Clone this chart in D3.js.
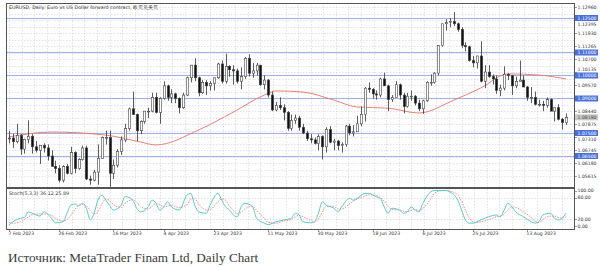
<!DOCTYPE html>
<html>
<head>
<meta charset="utf-8">
<script src="https://cdn.jsdelivr.net/npm/d3@7"></script>
<style>
  body { margin: 0; background: #fff; }
  svg { display: block; }
</style>
</head>
<body>
<div id="chart"></div>
<script>
// Daily candles, 7 Feb 2023 .. 28 Aug 2023: [open, high, low, close]
const candles = [
  [1.0725, 1.0760, 1.0705, 1.0728], [1.0728, 1.0747, 1.0685, 1.0712], [1.0712, 1.0790, 1.0705, 1.0740],
  [1.0740, 1.0745, 1.0655, 1.0680], [1.0680, 1.0725, 1.0660, 1.0722], [1.0722, 1.0805, 1.0705, 1.0736],
  [1.0736, 1.0745, 1.0660, 1.0690], [1.0690, 1.0715, 1.0665, 1.0675], [1.0675, 1.0695, 1.0615, 1.0695],
  [1.0695, 1.0705, 1.0665, 1.0685], [1.0685, 1.0700, 1.0630, 1.0650], [1.0650, 1.0675, 1.0605, 1.0605],
  [1.0605, 1.0630, 1.0575, 1.0595], [1.0595, 1.0610, 1.0535, 1.0545], [1.0545, 1.0610, 1.0535, 1.0605],
  [1.0605, 1.0615, 1.0570, 1.0575], [1.0575, 1.0690, 1.0570, 1.0665], [1.0665, 1.0670, 1.0575, 1.0595],
  [1.0595, 1.0640, 1.0590, 1.0635], [1.0635, 1.0695, 1.0630, 1.0685], [1.0685, 1.0695, 1.0545, 1.0550],
  [1.0550, 1.0565, 1.0525, 1.0545], [1.0545, 1.0590, 1.0540, 1.0580], [1.0580, 1.0700, 1.0525, 1.0640],
  [1.0640, 1.0735, 1.0640, 1.0730], [1.0730, 1.0760, 1.0700, 1.0730], [1.0730, 1.0760, 1.0516, 1.0575],
  [1.0575, 1.0635, 1.0550, 1.0610], [1.0610, 1.0680, 1.0600, 1.0670], [1.0670, 1.0735, 1.0655, 1.0720],
  [1.0720, 1.0790, 1.0710, 1.0770], [1.0770, 1.0860, 1.0760, 1.0855], [1.0855, 1.0930, 1.0830, 1.0830],
  [1.0830, 1.0835, 1.0715, 1.0760], [1.0760, 1.0805, 1.0745, 1.0800], [1.0800, 1.0845, 1.0790, 1.0845],
  [1.0845, 1.0860, 1.0815, 1.0845], [1.0845, 1.0925, 1.0840, 1.0905], [1.0905, 1.0925, 1.0835, 1.0840],
  [1.0840, 1.0905, 1.0790, 1.0900], [1.0900, 1.0975, 1.0895, 1.0955], [1.0955, 1.0960, 1.0890, 1.0905],
  [1.0905, 1.0940, 1.0880, 1.0920], [1.0920, 1.0925, 1.0880, 1.0900], [1.0900, 1.0905, 1.0835, 1.0860],
  [1.0860, 1.0925, 1.0855, 1.0915], [1.0915, 1.0995, 1.0910, 1.0990], [1.0990, 1.1045, 1.0970, 1.1045],
  [1.1045, 1.1075, 1.0975, 1.0990], [1.0990, 1.0995, 1.0910, 1.0925], [1.0925, 1.0980, 1.0920, 1.0970],
  [1.0970, 1.0980, 1.0915, 1.0955], [1.0955, 1.0975, 1.0935, 1.0965], [1.0965, 1.0990, 1.0935, 1.0990],
  [1.0990, 1.1055, 1.0985, 1.1050], [1.1050, 1.1065, 1.0965, 1.0975], [1.0975, 1.1095, 1.0965, 1.1040],
  [1.1040, 1.1045, 1.0995, 1.1025], [1.1025, 1.1045, 1.0960, 1.1020], [1.1020, 1.1030, 1.0965, 1.0975],
  [1.0975, 1.1035, 1.0940, 1.0995], [1.0995, 1.1080, 1.0985, 1.1075], [1.1075, 1.1092, 1.0995, 1.1010],
  [1.1010, 1.1055, 1.0990, 1.1020], [1.1020, 1.1055, 1.1000, 1.1045], [1.1045, 1.1045, 1.0955, 1.0960],
  [1.0960, 1.1000, 1.0940, 1.0980], [1.0980, 1.0985, 1.0905, 1.0915], [1.0915, 1.0930, 1.0845, 1.0850],
  [1.0850, 1.0885, 1.0845, 1.0870], [1.0870, 1.0905, 1.0850, 1.0860], [1.0860, 1.0875, 1.0805, 1.0840],
  [1.0840, 1.0845, 1.0760, 1.0770], [1.0770, 1.0830, 1.0760, 1.0805], [1.0805, 1.0830, 1.0790, 1.0815],
  [1.0815, 1.0825, 1.0760, 1.0775], [1.0775, 1.0790, 1.0745, 1.0750], [1.0750, 1.0760, 1.0715, 1.0725],
  [1.0725, 1.0745, 1.0705, 1.0720], [1.0720, 1.0730, 1.0700, 1.0705], [1.0705, 1.0745, 1.0675, 1.0735],
  [1.0735, 1.0740, 1.0635, 1.0690], [1.0690, 1.0775, 1.0665, 1.0765], [1.0765, 1.0780, 1.0705, 1.0710],
  [1.0710, 1.0725, 1.0675, 1.0715], [1.0715, 1.0720, 1.0675, 1.0695], [1.0695, 1.0710, 1.0665, 1.0700],
  [1.0700, 1.0785, 1.0690, 1.0780], [1.0780, 1.0790, 1.0740, 1.0750], [1.0750, 1.0785, 1.0735, 1.0755],
  [1.0755, 1.0825, 1.0755, 1.0790], [1.0790, 1.0865, 1.0780, 1.0830], [1.0830, 1.0950, 1.0800, 1.0945],
  [1.0945, 1.0970, 1.0925, 1.0940], [1.0940, 1.0945, 1.0900, 1.0920], [1.0920, 1.0935, 1.0895, 1.0915],
  [1.0915, 1.0990, 1.0905, 1.0985], [1.0985, 1.1012, 1.0955, 1.0955], [1.0955, 1.0960, 1.0845, 1.0895],
  [1.0895, 1.0915, 1.0885, 1.0905], [1.0905, 1.0975, 1.0905, 1.0960], [1.0960, 1.0965, 1.0895, 1.0915],
  [1.0915, 1.0925, 1.0835, 1.0865], [1.0865, 1.0925, 1.0860, 1.0910], [1.0910, 1.0935, 1.0890, 1.0910],
  [1.0910, 1.0915, 1.0870, 1.0880], [1.0880, 1.0895, 1.0845, 1.0855], [1.0855, 1.0895, 1.0833, 1.0890],
  [1.0890, 1.0975, 1.0885, 1.0970], [1.0970, 1.1005, 1.0955, 1.0970], [1.0970, 1.1015, 1.0965, 1.1010],
  [1.1010, 1.1130, 1.1000, 1.1130], [1.1130, 1.1225, 1.1125, 1.1225], [1.1225, 1.1245, 1.1195, 1.1230],
  [1.1230, 1.1250, 1.1210, 1.1235], [1.1235, 1.1276, 1.1215, 1.1225], [1.1225, 1.1230, 1.1190, 1.1200],
  [1.1200, 1.1210, 1.1120, 1.1130], [1.1130, 1.1145, 1.1105, 1.1125], [1.1125, 1.1130, 1.1060, 1.1065],
  [1.1065, 1.1085, 1.1035, 1.1055], [1.1055, 1.1085, 1.1030, 1.1085], [1.1085, 1.1149, 1.0970, 1.0975],
  [1.0975, 1.1045, 1.0945, 1.1015], [1.1015, 1.1045, 1.0990, 1.0995], [1.0995, 1.1005, 1.0960, 1.0985],
  [1.0985, 1.1000, 1.0920, 1.0935], [1.0935, 1.0960, 1.0910, 1.0945], [1.0945, 1.1040, 1.0935, 1.1005],
  [1.1005, 1.1010, 1.0980, 1.1000], [1.1000, 1.1000, 1.0915, 1.0955], [1.0955, 1.0995, 1.0945, 1.0975],
  [1.0975, 1.1065, 1.0975, 1.0980], [1.0980, 1.1000, 1.0950, 1.0950], [1.0950, 1.0955, 1.0890, 1.0905],
  [1.0905, 1.0950, 1.0880, 1.0905], [1.0905, 1.0930, 1.0870, 1.0875], [1.0875, 1.0895, 1.0865, 1.0875],
  [1.0875, 1.0890, 1.0845, 1.0870], [1.0870, 1.0905, 1.0860, 1.0895], [1.0895, 1.0900, 1.0845, 1.0845],
  [1.0845, 1.0855, 1.0800, 1.0860], [1.0860, 1.0875, 1.0805, 1.0810], [1.0810, 1.0815, 1.0765, 1.0795],
  [1.0795, 1.0835, 1.0785, 1.0818]
]

const maIdx = [0, 11, 25, 34, 38, 49, 58, 66, 69, 76, 84, 90, 98, 106, 115, 122, 129, 137, 144]
const maVal = [1.0733, 1.0754, 1.0741, 1.0711, 1.0698, 1.0763, 1.0841, 1.0915, 1.0933, 1.0928,
  1.0893, 1.0863, 1.0858, 1.0837, 1.0893, 1.0946, 1.1007, 1.1002, 1.0985]

// stochastic (5,3,3)
const stIdx = [0, 1, 3, 4, 5, 6, 8, 9, 11, 12, 14, 15, 16, 17, 18, 19, 20, 21, 22, 23, 24, 25, 26, 27, 29, 30,
  32, 33, 34, 36, 37, 38, 39, 40, 41, 42, 44, 46, 47, 48, 49, 51, 52, 54, 55, 56, 57, 58, 59, 60, 61, 63,
  64, 66, 67, 69, 71, 73, 74, 75, 76, 78, 79, 80, 81, 82, 84, 85, 86, 88, 89, 90, 92, 93, 95, 96, 97, 98,
  99, 101, 102, 103, 104, 105, 106, 107, 109, 110, 111, 112, 113, 114, 116, 117, 118, 119, 120, 121, 122,
  124, 126, 127, 128, 129, 130, 131, 133, 135, 136, 137, 138, 140, 141, 142, 143, 144]
const stK = [3, 12, 22, 24, 40, 36, 28, 40, 22, 9, 12, 36, 59, 62, 57, 64, 50, 17, 36, 73, 87, 73, 58, 45, 59, 83,
  73, 50, 40, 54, 73, 64, 45, 54, 68, 54, 45, 87, 92, 59, 40, 36, 59, 92, 73, 54, 45, 31, 26, 54, 64, 54,
  22, 8, 4, 12, 17, 22, 36, 31, 12, 9, 12, 36, 68, 59, 50, 40, 54, 78, 73, 78, 92, 92, 82, 78, 54, 36,
  50, 45, 36, 40, 54, 45, 40, 64, 96, 100, 100, 100, 100, 96, 73, 45, 17, 8, 8, 12, 17,
  26, 31, 26, 45, 64, 54, 40, 26, 12, 8, 12, 31, 36, 22, 17, 22, 36]
const stD = [10, 8, 12, 18, 25, 32, 34, 34, 30, 22, 14, 18, 30, 46, 58, 61, 57, 44, 34, 40, 62, 76, 72, 60, 52, 64,
  74, 68, 54, 48, 56, 64, 60, 54, 56, 58, 52, 60, 76, 78, 62, 45, 46, 68, 76, 72, 56, 44, 34, 38, 48, 56,
  44, 22, 10, 8, 14, 18, 26, 30, 26, 16, 11, 20, 40, 55, 56, 48, 48, 62, 70, 76, 84, 88, 86, 80, 70, 55,
  46, 45, 42, 40, 44, 46, 44, 50, 76, 92, 98, 100, 100, 98, 88, 70, 44, 22, 12, 10, 12,
  18, 26, 28, 34, 46, 54, 52, 40, 24, 14, 10, 18, 28, 28, 24, 22, 26]

// axis labels
const priceTicks = [1.05615, 1.06180, 1.06745, 1.07310, 1.07875, 1.08440, 1.09005, 1.09570,
  1.10135, 1.10700, 1.11265, 1.11830, 1.12395, 1.12960]
const levels = [1.125, 1.11, 1.10, 1.09, 1.075, 1.065]
const stochTicks = [100, 80, 20, 0]
const dateIdx = [0, 13, 27, 40, 53, 67, 80, 94, 107, 120, 134]
const dateLabels = ['7 Feb 2023', '26 Feb 2023', '16 Mar 2023', '4 Apr 2023', '23 Apr 2023', '11 May 2023',
  '30 May 2023', '18 Jun 2023', '6 Jul 2023', '25 Jul 2023', '13 Aug 2023']

const width = 600
const height = 267
const frame = { left: 6, right: 574, top: 3, mainBottom: 187, stochTop: 189, bottom: 229 }
const sans = "'DejaVu Sans', sans-serif"

const svg = d3.select('#chart')
  .append('svg')
  .attr('width', width)
  .attr('height', height)
  .style('font-family', sans)

svg.append('rect').attr('width', width).attr('height', height).attr('fill', '#fff')

// scales
const xScale = d3.scaleLinear().domain([0, candles.length - 1]).range([9, 566])
const yScale = d3.scaleLinear().domain([1.065, 1.125]).range([156, 18])
const sScale = d3.scaleLinear().domain([0, 100]).range([226, 190.5])

svg.append('clipPath').attr('id', 'main-clip')
  .append('rect')
  .attr('x', frame.left).attr('y', frame.top)
  .attr('width', frame.right - frame.left).attr('height', frame.mainBottom - frame.top)

svg.append('clipPath').attr('id', 'stoch-clip')
  .append('rect')
  .attr('x', frame.left).attr('y', frame.stochTop)
  .attr('width', frame.right - frame.left).attr('height', frame.bottom - frame.stochTop)

const grid = svg.append('g').attr('stroke', '#d0d0d0').attr('stroke-width', 0.6).attr('stroke-dasharray', '1.5 1.5')

// vertical grid: four steps between date labels
const step = (dateIdx[1] - dateIdx[0]) / 4
const vGrid = d3.range(dateIdx[0], candles.length + step, step)
vGrid.forEach(i => {
  const x = Math.round(xScale(i)) + 0.5
  if (x > frame.right) return
  grid.append('line').attr('x1', x).attr('x2', x).attr('y1', frame.top).attr('y2', frame.mainBottom)
  grid.append('line').attr('x1', x).attr('x2', x).attr('y1', frame.stochTop).attr('y2', frame.bottom)
})

// horizontal grid: price ticks and half steps
priceTicks.forEach((p, k) => {
  const ys = [yScale(p)]
  if (k < priceTicks.length - 1) ys.push(yScale((p + priceTicks[k + 1]) / 2))
  ys.forEach(y => {
    if (y < frame.top || y > frame.mainBottom) return
    grid.append('line').attr('x1', frame.left).attr('x2', frame.right)
      .attr('y1', Math.round(y) + 0.5).attr('y2', Math.round(y) + 0.5)
  })
})
;[80, 20].forEach(v => {
  grid.append('line').attr('x1', frame.left).attr('x2', frame.right)
    .attr('y1', Math.round(sScale(v)) + 0.5).attr('y2', Math.round(sScale(v)) + 0.5)
})

// blue horizontal levels
svg.append('g')
  .selectAll('line')
  .data(levels)
  .enter()
  .append('line')
  .attr('x1', frame.left)
  .attr('x2', frame.right)
  .attr('y1', d => Math.round(yScale(d)) + 0.5)
  .attr('y2', d => Math.round(yScale(d)) + 0.5)
  .attr('stroke', '#9fb2e6')
  .attr('stroke-width', 1)

// moving average
const maLine = d3.line()
  .x((d, i) => xScale(maIdx[i]))
  .y(d => yScale(d))
  .curve(d3.curveMonotoneX)

svg.append('path')
  .datum(maVal)
  .attr('d', maLine)
  .attr('fill', 'none')
  .attr('stroke', '#e8706c')
  .attr('stroke-width', 0.9)
  .attr('clip-path', 'url(#main-clip)')

// candles
const candleG = svg.append('g').attr('clip-path', 'url(#main-clip)')
const bodyW = 2.4

candleG.selectAll('.wick')
  .data(candles)
  .enter()
  .append('line')
  .attr('class', 'wick')
  .attr('x1', (d, i) => Math.round(xScale(i)) + 0.5)
  .attr('x2', (d, i) => Math.round(xScale(i)) + 0.5)
  .attr('y1', d => yScale(d[1]))
  .attr('y2', d => yScale(d[2]))
  .attr('stroke', '#333')
  .attr('stroke-width', 0.8)

candleG.selectAll('.body')
  .data(candles)
  .enter()
  .append('rect')
  .attr('class', 'body')
  .attr('x', (d, i) => Math.round(xScale(i)) + 0.5 - bodyW / 2)
  .attr('y', d => yScale(Math.max(d[0], d[3])))
  .attr('width', bodyW)
  .attr('height', d => Math.max(0.8, Math.abs(yScale(d[0]) - yScale(d[3]))))
  .attr('fill', d => d[3] >= d[0] ? '#fff' : '#111')
  .attr('stroke', '#444')
  .attr('stroke-width', 0.6)

// stochastic lines
const kLine = d3.line()
  .x((d, i) => xScale(stIdx[i]))
  .y(d => sScale(d))
  .curve(d3.curveMonotoneX)

svg.append('path')
  .datum(stD)
  .attr('d', kLine)
  .attr('fill', 'none')
  .attr('stroke', '#f08080')
  .attr('stroke-width', 0.9)
  .attr('stroke-dasharray', '1.5 1.2')
  .attr('clip-path', 'url(#stoch-clip)')

svg.append('path')
  .datum(stK)
  .attr('d', kLine)
  .attr('fill', 'none')
  .attr('stroke', '#5cc8c8')
  .attr('stroke-width', 1)
  .attr('clip-path', 'url(#stoch-clip)')

// frames
const frameG = svg.append('g').attr('fill', 'none').attr('stroke', '#555')
frameG.append('rect')
  .attr('x', frame.left + 0.5).attr('y', frame.top + 0.5)
  .attr('width', frame.right - frame.left).attr('height', frame.bottom - frame.top)
  .attr('stroke-width', 1)
frameG.append('line')
  .attr('x1', frame.left).attr('x2', frame.right)
  .attr('y1', 188).attr('y2', 188)
  .attr('stroke-width', 2)

// right axis: prices (labels pushed off the coloured tags, hidden when under one)
const tagYs = levels.map(p => yScale(p))
const last = candles[candles.length - 1][3]
tagYs.push(yScale(last))

const axisG = svg.append('g').attr('font-size', 4.6).attr('fill', '#333')
priceTicks.forEach(p => {
  const y = yScale(p)
  axisG.append('line').attr('x1', frame.right).attr('x2', frame.right + 3)
    .attr('y1', Math.round(y) + 0.5).attr('y2', Math.round(y) + 0.5).attr('stroke', '#555').attr('stroke-width', 0.6)
  let ty = y
  let hidden = false
  tagYs.forEach(t => {
    const dist = ty - t
    if (Math.abs(dist) < 2) hidden = true
    else if (Math.abs(dist) < 6) ty = t + (dist > 0 ? 6 : -6)
  })
  if (hidden) return
  axisG.append('text').attr('x', frame.right + 3.5).attr('y', ty).attr('dy', '0.35em').text(p.toFixed(5))
})

// blue level tags
levels.forEach(p => {
  const y = yScale(p)
  axisG.append('rect').attr('x', frame.right + 1).attr('y', y - 3).attr('width', 23).attr('height', 6).attr('fill', '#4a6fd8')
  axisG.append('text').attr('x', frame.right + 3.5).attr('y', y).attr('dy', '0.35em').attr('fill', '#fff').text(p.toFixed(5))
})

// last price tag
axisG.append('rect').attr('x', frame.right + 1).attr('y', yScale(last) - 3).attr('width', 23).attr('height', 6).attr('fill', '#c8c8c8')
axisG.append('text').attr('x', frame.right + 3.5).attr('y', yScale(last)).attr('dy', '0.35em').attr('fill', '#444').text(last.toFixed(5))

// right axis: stochastic
stochTicks.forEach(v => {
  const y = sScale(v)
  axisG.append('line').attr('x1', frame.right).attr('x2', frame.right + 3)
    .attr('y1', Math.round(y) + 0.5).attr('y2', Math.round(y) + 0.5).attr('stroke', '#555').attr('stroke-width', 0.6)
  axisG.append('text').attr('x', frame.right + 3.5).attr('y', y).attr('dy', '0.35em').text(v.toFixed(2))
})

// date labels
dateIdx.forEach((i, k) => {
  const x = Math.round(xScale(i)) + 0.5
  axisG.append('line').attr('x1', x).attr('x2', x).attr('y1', frame.bottom).attr('y2', frame.bottom + 3)
    .attr('stroke', '#555').attr('stroke-width', 0.6)
  axisG.append('text').attr('x', x - 1).attr('y', 234.5).text(dateLabels[k])
})

// titles
svg.append('text')
  .attr('x', 9).attr('y', 8.5)
  .attr('font-size', 4.8).attr('fill', '#333')
  .text('EURUSD, Daily:  Euro vs US Dollar forward contract, 欧元兑美元')

svg.append('text')
  .attr('x', 9).attr('y', 195)
  .attr('font-size', 4.8).attr('fill', '#333')
  .text('Stoch(5,3,3) 36.12 25.89')

// source caption
svg.append('text')
  .attr('x', 8).attr('y', 262)
  .style('font-family', "'Liberation Serif', 'Times New Roman', serif")
  .attr('font-size', 13.2)
  .attr('fill', '#3a3a3a')
  .text('Источник: MetaTrader Finam Ltd, Daily Chart')
</script>
</body>
</html>
